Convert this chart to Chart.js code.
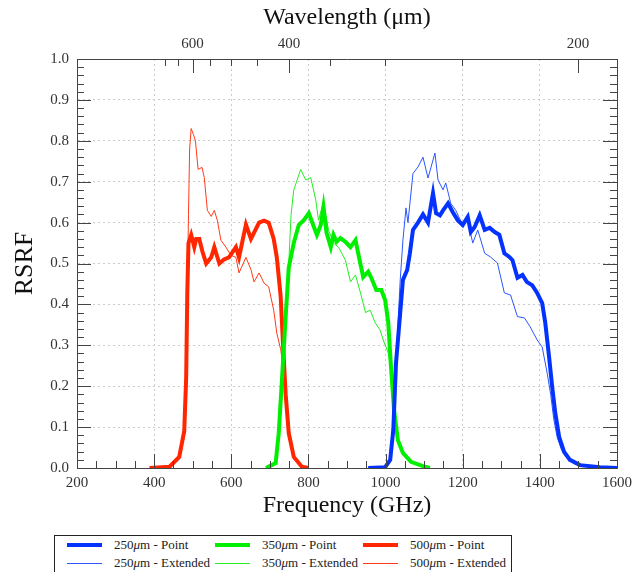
<!DOCTYPE html>
<html>
<head>
<meta charset="utf-8">
<script src="https://cdn.jsdelivr.net/npm/chart.js@4.4.1/dist/chart.umd.min.js"></script>
<style>
  body { margin: 0; width: 638px; height: 572px; overflow: hidden; background: #fff; font-family: "Liberation Serif", serif; }
  #wrap { position: absolute; left: 0; top: 0; width: 638px; height: 530px; }
  #legend { position: absolute; left: 54px; top: 535px; width: 458px; height: 50px; border: 1px solid #222; box-sizing: border-box; }
  .item { position: absolute; display: flex; align-items: center; font-size: 13px; color: #222; height: 16px; }
  .sample { display: inline-block; width: 35px; margin-right: 12px; }
</style>
</head>
<body>
<div id="wrap"><canvas id="rsrfChart"></canvas></div>
<div id="legend"></div>
<script>
// 500 um band (red)
const f500Point = [388, 440, 465, 478, 483, 486, 489, 496, 504, 509, 517, 525, 535, 548, 556, 569, 581, 594, 612, 620, 638, 651, 672, 685, 697, 710, 718, 728, 734, 741, 749, 762, 783, 800];
const r500Point = [0, 0.003, 0.027, 0.09, 0.22, 0.43, 0.55, 0.57, 0.54, 0.56, 0.56, 0.53, 0.50, 0.515, 0.54, 0.50, 0.51, 0.515, 0.54, 0.515, 0.595, 0.56, 0.60, 0.605, 0.60, 0.56, 0.515, 0.42, 0.305, 0.18, 0.085, 0.027, 0.003, 0];
const f500Ext = [388, 440, 465, 478, 483, 486, 489, 492, 496, 502, 507, 514, 524, 530, 538, 548, 556, 564, 573, 586, 599, 612, 620, 638, 651, 659, 672, 685, 697, 710, 718, 728, 734, 741, 749, 762, 783, 800];
const r500Ext = [0, 0.003, 0.027, 0.09, 0.22, 0.43, 0.62, 0.78, 0.83, 0.815, 0.80, 0.73, 0.735, 0.71, 0.63, 0.615, 0.63, 0.605, 0.557, 0.54, 0.52, 0.515, 0.477, 0.515, 0.485, 0.455, 0.477, 0.452, 0.443, 0.386, 0.33, 0.29, 0.25, 0.18, 0.085, 0.027, 0.003, 0];

// 350 um band (green)
const f350Point = [690, 715, 723, 731, 741, 749, 762, 775, 788, 801, 814, 822, 832, 839, 847, 858, 865, 873, 883, 896, 909, 922, 929, 942, 955, 963, 976, 989, 999, 1007, 1014, 1022, 1032, 1045, 1066, 1102, 1115];
const r350Point = [0, 0.012, 0.085, 0.21, 0.37, 0.49, 0.55, 0.594, 0.606, 0.623, 0.59, 0.57, 0.594, 0.638, 0.575, 0.54, 0.57, 0.553, 0.562, 0.553, 0.54, 0.557, 0.525, 0.467, 0.48, 0.465, 0.435, 0.435, 0.41, 0.355, 0.247, 0.142, 0.068, 0.037, 0.015, 0.003, 0];
const f350Ext = [690, 715, 723, 731, 741, 749, 755, 762, 780, 793, 806, 819, 826, 839, 852, 865, 878, 896, 909, 922, 935, 948, 960, 973, 986, 994, 1007, 1014, 1022, 1032, 1045, 1066, 1102, 1115];
const r350Ext = [0, 0.012, 0.085, 0.21, 0.37, 0.5, 0.62, 0.68, 0.73, 0.704, 0.71, 0.655, 0.606, 0.65, 0.582, 0.55, 0.54, 0.508, 0.455, 0.472, 0.428, 0.38, 0.386, 0.355, 0.337, 0.313, 0.281, 0.24, 0.142, 0.068, 0.037, 0.015, 0.003, 0];

// 250 um band (blue)
const f250Point = [955, 999, 1012, 1020, 1027, 1038, 1045, 1056, 1063, 1071, 1084, 1097, 1110, 1123, 1131, 1141, 1149, 1162, 1174, 1187, 1200, 1213, 1221, 1231, 1244, 1257, 1270, 1283, 1295, 1308, 1321, 1329, 1342, 1355, 1366, 1380, 1393, 1406, 1414, 1424, 1432, 1440, 1450, 1463, 1478, 1504, 1556, 1600];
const r250Point = [0, 0.002, 0.02, 0.093, 0.256, 0.38, 0.46, 0.484, 0.525, 0.582, 0.60, 0.62, 0.60, 0.672, 0.623, 0.618, 0.63, 0.647, 0.626, 0.606, 0.594, 0.614, 0.577, 0.589, 0.618, 0.582, 0.587, 0.577, 0.57, 0.525, 0.516, 0.508, 0.465, 0.472, 0.455, 0.447, 0.428, 0.403, 0.355, 0.271, 0.198, 0.134, 0.076, 0.039, 0.02, 0.007, 0.002, 0];
const f250Ext = [955, 999, 1012, 1020, 1027, 1038, 1045, 1053, 1058, 1071, 1084, 1097, 1110, 1128, 1136, 1149, 1156, 1169, 1182, 1200, 1213, 1226, 1239, 1257, 1272, 1290, 1308, 1324, 1342, 1360, 1375, 1393, 1406, 1419, 1428, 1436, 1445, 1456, 1470, 1490, 1530, 1600];
const r250Ext = [0, 0.002, 0.02, 0.093, 0.256, 0.46, 0.557, 0.636, 0.60, 0.72, 0.736, 0.76, 0.709, 0.77, 0.704, 0.68, 0.697, 0.647, 0.63, 0.594, 0.606, 0.55, 0.582, 0.525, 0.516, 0.501, 0.428, 0.423, 0.37, 0.367, 0.345, 0.313, 0.296, 0.232, 0.18, 0.12, 0.075, 0.045, 0.025, 0.01, 0.003, 0];

const waveLabels = [600, 400, 200];
const waveMinor = [700, 650, 550, 500, 450, 350, 300, 250];

const C_KMS = 299792.458; // GHz * um

const pts = (fs, rs) => fs.map((f, i) => ({ x: f, y: rs[i] }));

const datasets = [
  { label: "250μm - Point", data: pts(f250Point, r250Point), borderColor: "#0433ff", borderWidth: 4 },
  { label: "350μm - Point", data: pts(f350Point, r350Point), borderColor: "#00ee00", borderWidth: 4 },
  { label: "500μm - Point", data: pts(f500Point, r500Point), borderColor: "#ff2600", borderWidth: 4 },
  { label: "250μm - Extended", data: pts(f250Ext, r250Ext), borderColor: "#2a55ff", borderWidth: 1 },
  { label: "350μm - Extended", data: pts(f350Ext, r350Ext), borderColor: "#22ee22", borderWidth: 1 },
  { label: "500μm - Extended", data: pts(f500Ext, r500Ext), borderColor: "#ff3a1a", borderWidth: 1 }
];
datasets.forEach(d => { d.pointRadius = 0; d.tension = 0; d.fill = false; });

// inward tick marks on all four sides
const tickMarks = {
  id: "tickMarks",
  afterDraw(chart) {
    const { ctx, chartArea: a, scales } = chart;
    ctx.save();
    ctx.strokeStyle = "#444";
    ctx.lineWidth = 1;
    const mark = (x1, y1, x2, y2) => { ctx.beginPath(); ctx.moveTo(x1, y1); ctx.lineTo(x2, y2); ctx.stroke(); };
    for (let v = 200; v <= 1600; v += 50) {
      const x = Math.round(scales.x.getPixelForValue(v)) + 0.5;
      mark(x, a.bottom, x, a.bottom - (v % 200 === 0 ? 14 : 7));
    }
    for (let i = 0; i <= 50; i++) {
      const y = Math.round(scales.y.getPixelForValue(i / 50)) + 0.5;
      const len = i % 5 === 0 ? 14 : 7;
      mark(a.left, y, a.left + len, y);
      mark(a.right, y, a.right - len, y);
    }
    waveLabels.concat(waveMinor).forEach(w => {
      const x = Math.round(scales.x2.getPixelForValue(C_KMS / w)) + 0.5;
      mark(x, a.top, x, a.top + (waveLabels.includes(w) ? 14 : 7));
    });
    ctx.restore();
  }
};

const serif = "'Liberation Serif', 'Times New Roman', serif";
const tickFont = { family: serif, size: 15 };
const border = { display: true, color: "#444", width: 1, dash: [2, 3] };

new Chart(document.getElementById("rsrfChart").getContext("2d"), {
  type: "line",
  data: { datasets },
  plugins: [tickMarks],
  options: {
    responsive: true,
    maintainAspectRatio: false,
    animation: false,
    layout: { padding: 0 },
    plugins: { legend: { display: false }, tooltip: { enabled: false } },
    scales: {
      x: {
        type: "linear", position: "bottom", min: 200, max: 1600,
        ticks: { stepSize: 200, autoSkip: false, maxRotation: 0, padding: 6, color: "#333", font: tickFont, callback: v => String(v) },
        grid: { color: "#cccccc", drawTicks: false },
        border,
        title: { display: true, text: "Frequency (GHz)", color: "#111", font: { family: serif, size: 24 }, padding: { top: 0, bottom: 10 } },
        afterFit: s => { s.height = 62; }
      },
      x2: {
        type: "linear", position: "top", min: 200, max: 1600,
        afterBuildTicks: s => { s.ticks = waveLabels.map(w => ({ value: C_KMS / w })); },
        ticks: { autoSkip: false, maxRotation: 0, padding: 6, color: "#333", font: tickFont, callback: v => String(Math.round(C_KMS / v)) },
        grid: { drawOnChartArea: false, drawTicks: false },
        border: { display: true, color: "#444", width: 1 },
        title: { display: true, text: "Wavelength (μm)", color: "#111", font: { family: serif, size: 24 }, padding: { top: 3, bottom: 0 } },
        afterFit: s => { s.height = 59; }
      },
      y: {
        position: "left", min: 0, max: 1,
        ticks: { stepSize: 0.1, padding: 8, color: "#333", font: tickFont, callback: v => v.toFixed(1) },
        grid: { color: "#cccccc", drawTicks: false },
        border,
        title: { display: true, text: "RSRF", color: "#111", font: { family: serif, size: 26 }, padding: { top: 10, bottom: 0 } },
        afterFit: s => { s.width = 77; }
      },
      y2: {
        position: "right", min: 0, max: 1,
        ticks: { display: false },
        grid: { drawOnChartArea: false, drawTicks: false },
        border: { display: true, color: "#444", width: 1 },
        afterFit: s => { s.width = 18; }
      }
    }
  }
});

// legend: three columns, two rows
const legend = document.getElementById("legend");
const colX = [12, 160, 308];
datasets.forEach((d, i) => {
  const item = document.createElement("div");
  item.className = "item";
  item.style.left = colX[i % 3] + "px";
  item.style.top = (i < 3 ? 1 : 19) + "px";
  item.innerHTML = `<span class="sample" style="height:${d.borderWidth}px;background:${d.borderColor}"></span>` +
    d.label.replace("μ", "<i>μ</i>");
  legend.appendChild(item);
});
</script>
</body>
</html>
